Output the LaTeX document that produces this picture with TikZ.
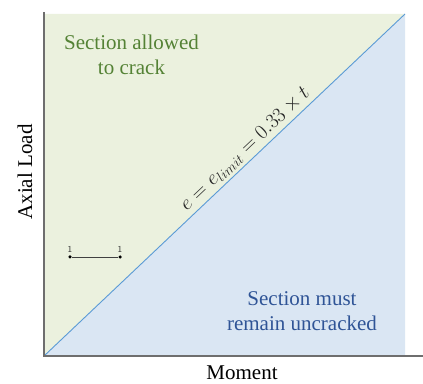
\documentclass[tikz,border=0pt]{standalone}
\usepackage{fontspec}
\setmainfont{Liberation Serif}
\usetikzlibrary{positioning}

\definecolor{crackfill}{RGB}{235,241,222}
\definecolor{uncrackfill}{RGB}{218,230,243}
\definecolor{limitline}{RGB}{91,155,213}
\definecolor{axisgray}{RGB}{110,110,110}
\definecolor{crackgreen}{RGB}{84,130,53}
\definecolor{uncrackblue}{RGB}{47,84,150}

\begin{document}
\begin{tikzpicture}[x=1pt, y=1pt,
    region/.style = {font=\fontsize{21}{25}\selectfont, align=center},
    axislabel/.style = {font=\fontsize{21}{25}\selectfont},
    dot/.style = {circle, fill=black, inner sep=0pt, minimum size=3.5pt},
    tick/.style = {font=\sffamily\fontsize{9}{10}\selectfont, text=black!80, inner sep=1pt}
  ]
  \useasboundingbox (0,0) rectangle (423,383);

  \coordinate (O) at (44,27);
  \coordinate (C) at (405,369);
  \coordinate (Ytop) at (44,371);
  \coordinate (Xend) at (423,27);

  % zones
  \fill[crackfill] (O) -- (O |- C) -- (C) -- cycle;
  \fill[uncrackfill] (O) -- (C) -- (C |- O) -- cycle;

  % limit line
  \draw[limitline, line width=0.9pt] (O) -- (C)
    node[pos=0.58, sloped, above, inner sep=3pt, text=black!85,
      font=\fontsize{20}{22}\selectfont] (eqn)
      {$e = e_{limit} = 0.33 \times t$};

  % axes
  \draw[axisgray, line width=1.2pt] (Ytop) -- (O) -- (Xend);

  \node[region, text=crackgreen] (cracked) at (131.5,328.5)
    {Section allowed\\to crack};
  \node[region, text=uncrackblue] (uncracked) at (302,72)
    {Section must\\remain uncracked};

  \node[axislabel, rotate=90] (ylab) at (25,211) {Axial Load};
  \node[axislabel, inner sep=1pt] (xlab) at (242,10.5) {Moment};

  % scale bar
  \node[dot] (p1) at (70,126) {};
  \node[dot] (p2) at (120,126) {};
  \draw[black!75, line width=0.8pt] (p1) -- (p2);
  \node[tick, above=1pt of p1] (t1) {1};
  \node[tick, above=1pt of p2] (t2) {1};
\end{tikzpicture}
\end{document}
